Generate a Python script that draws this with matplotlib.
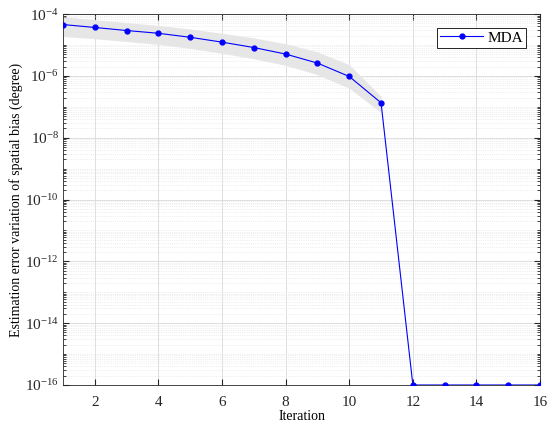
import numpy as np
import matplotlib
matplotlib.use("Agg")
import matplotlib.pyplot as plt
from matplotlib.ticker import LogLocator, FixedLocator, NullFormatter

iterations = [1, 2, 3, 4, 5, 6, 7, 8, 9, 10, 11, 12, 13, 14, 15, 16]
mda = [4.6e-5, 3.7e-5, 2.95e-5, 2.4e-5, 1.78e-5, 1.24e-5, 8.3e-6, 5.1e-6,
       2.6e-6, 9.6e-7, 1.35e-7, 1e-16, 1e-16, 1e-16, 1e-16, 1e-16]
band_iter = [1, 2, 3, 4, 5, 6, 7, 8, 9, 10, 11]
band_upper = [8.2e-5, 6.6e-5, 5.3e-5, 4.3e-5, 3.3e-5, 2.4e-5, 1.7e-5, 1.1e-5,
              6.0e-6, 2.3e-6, 2.2e-7]
band_lower = [1.9e-5, 1.6e-5, 1.3e-5, 1.05e-5, 7.8e-6, 5.4e-6, 3.6e-6, 2.2e-6,
              1.1e-6, 4.0e-7, 6.5e-8]

plt.rcParams['font.family'] = ['Liberation Serif', 'DejaVu Serif']
plt.rcParams['mathtext.fontset'] = 'stix'

fig = plt.figure(figsize=(5.5, 4.28), dpi=100)
ax = fig.add_axes([0.1145, 0.1005, 0.8675, 0.8665])

ax.fill_between(band_iter, band_lower, band_upper, color=(0.9, 0.9, 0.9), linewidth=0, zorder=1)
ax.plot(iterations, mda, color=(0, 0, 1), marker='o', markersize=3.5, linewidth=0.8, label='MDA', zorder=3)

ax.set_yscale('log')
ax.set_xlim(1, 16)
ax.set_ylim(1e-16, 1e-4)
ax.set_xticks([2, 4, 6, 8, 10, 12, 14, 16])
ax.yaxis.set_major_locator(FixedLocator([1e-16, 1e-14, 1e-12, 1e-10, 1e-8, 1e-6, 1e-4]))
ax.yaxis.set_minor_locator(LogLocator(base=10, subs=np.arange(1, 10), numticks=100))
ax.yaxis.set_minor_formatter(NullFormatter())

ax.grid(True, which='major', color=(0.85, 0.85, 0.85), linewidth=0.6, zorder=0)
ax.grid(True, which='minor', axis='y', color=(0.88, 0.88, 0.88), linewidth=0.5, linestyle=':', zorder=0)
ax.set_axisbelow(True)

ax.tick_params(which='both', direction='in', top=True, right=True, labelsize=11, colors=(0.15, 0.15, 0.15))
ax.tick_params(which='major', length=4)
ax.tick_params(which='minor', length=2)
ax.tick_params(axis='x', pad=8)
ax.tick_params(axis='y', pad=3)
for s in ax.spines.values():
    s.set_color((0.15, 0.15, 0.15))
    s.set_linewidth(0.6)

ax.set_xlabel('Iteration', fontsize=10, labelpad=1)
ax.set_ylabel('Estimation error variation of spatial bias (degree)', fontsize=10, labelpad=1)

leg = ax.legend(loc='upper right', fontsize=11, fancybox=False, framealpha=1,
                edgecolor='black', borderaxespad=0.9, borderpad=0.2,
                handlelength=2.8, handletextpad=0.3)
leg.get_frame().set_linewidth(0.6)

fig.savefig('out.png', dpi=100)
